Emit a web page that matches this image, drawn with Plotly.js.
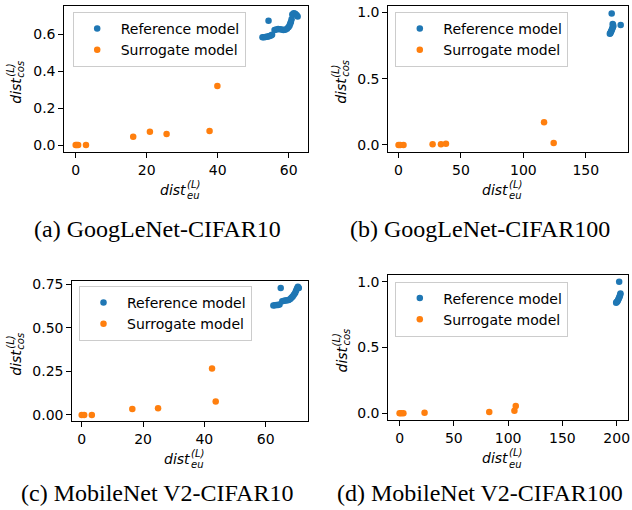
<!DOCTYPE html>
<html>
<head>
<meta charset="utf-8">
<script src="https://cdn.plot.ly/plotly-3.0.1.min.js"></script>
<style>html,body{margin:0;padding:0;background:#fff;}#chart{width:632px;height:510px;}</style>
</head>
<body>
<div id="chart"></div>
<script>
// ---------- DATA ----------
const seriesNames = ["Reference model", "Surrogate model"];
const captions = ["(a) GoogLeNet-CIFAR10", "(b) GoogLeNet-CIFAR100", "(c) MobileNet V2-CIFAR10", "(d) MobileNet V2-CIFAR100"];

// (a) GoogLeNet-CIFAR10
const refA_x = [52.6, 53.0, 53.4, 53.8, 54.2, 54.6, 55.0, 55.3, 54.3, 56.0, 56.5, 57.0, 57.5, 58.0, 58.5, 59.0, 59.5, 59.9, 60.2, 60.4, 60.6, 60.8, 61.0, 61.4, 61.8, 62.2, 62.5];
const refA_y = [0.582, 0.583, 0.584, 0.585, 0.587, 0.589, 0.592, 0.596, 0.672, 0.622, 0.625, 0.627, 0.626, 0.624, 0.622, 0.623, 0.628, 0.636, 0.645, 0.655, 0.665, 0.68, 0.705, 0.712, 0.71, 0.703, 0.695];
const surA_x = [0.0, 0.3, 0.7, 2.9, 16.2, 20.9, 25.6, 37.7, 39.9];
const surA_y = [0.0, 0.0, 0.0, 0.0, 0.045, 0.072, 0.059, 0.076, 0.319];

// (b) GoogLeNet-CIFAR100
const refB_x = [170.8, 171.6, 171.9, 172.0, 171.7, 171.3, 170.9, 170.5, 170.1, 169.7, 169.3, 178.0];
const refB_y = [0.992, 0.912, 0.905, 0.896, 0.887, 0.878, 0.869, 0.860, 0.851, 0.843, 0.838, 0.904];
const surB_x = [0.0, 1.3, 4.0, 27.3, 34.0, 38.0, 116.6, 124.3];
const surB_y = [0.0, 0.0, 0.0, 0.005, 0.005, 0.01, 0.171, 0.015];

// (c) MobileNet V2-CIFAR10
const refC_x = [62.5, 63.0, 63.5, 64.0, 64.5, 64.9, 65.4, 66.0, 66.5, 67.0, 67.5, 68.0, 68.4, 68.8, 69.2, 69.6, 69.9, 70.2, 70.5, 70.8];
const refC_y = [0.628, 0.629, 0.630, 0.631, 0.633, 0.728, 0.652, 0.655, 0.656, 0.658, 0.660, 0.665, 0.672, 0.680, 0.690, 0.700, 0.712, 0.725, 0.735, 0.728];
const surC_x = [0.0, 0.8, 3.3, 16.5, 24.9, 42.5, 43.7];
const surC_y = [0.0, 0.0, 0.0, 0.034, 0.038, 0.266, 0.077];

// (d) MobileNet V2-CIFAR100
const refD_x = [202.3, 203.5, 203.2, 202.8, 202.3, 201.8, 201.2, 200.6, 200.0, 199.5];
const refD_y = [1.0, 0.91, 0.90, 0.89, 0.88, 0.87, 0.86, 0.85, 0.845, 0.84];
const surD_x = [0.0, 1.5, 3.5, 23.0, 82.6, 105.8, 107.0];
const surD_y = [0.0, 0.0, 0.0, 0.005, 0.01, 0.02, 0.055];

// tick labels
const ticksA_x = [0, 20, 40, 60];        const ticksA_y = [0.0, 0.2, 0.4, 0.6];
const labelsA_y = ["0.0", "0.2", "0.4", "0.6"];
const ticksB_x = [0, 50, 100, 150];      const ticksB_y = [0.0, 0.5, 1.0];
const labelsB_y = ["0.0", "0.5", "1.0"];
const ticksC_x = [0, 20, 40, 60];        const ticksC_y = [0.0, 0.25, 0.5, 0.75];
const labelsC_y = ["0.00", "0.25", "0.50", "0.75"];
const ticksD_x = [0, 50, 100, 150, 200]; const ticksD_y = [0.0, 0.5, 1.0];
const labelsD_y = ["0.0", "0.5", "1.0"];

// ---------- LAYOUT ----------
const W = 632, H = 510;
const px = v => v / W;
const py = v => 1 - v / H;
const BLUE = "#1f77b4", ORANGE = "#ff7f0e";
const tickFont = {family: "DejaVu Sans", size: 14, color: "#000"};

// plot boxes in pixels
const boxes = [
  {l: 64.3, r: 308.3, t: 5.7, b: 151.7, xr: [-3.2, 65.5], yr: [-0.036, 0.753], tx: ticksA_x, ty: ticksA_y, tyl: labelsA_y, leg: [72.7, 12], ytx: 16},
  {l: 388.3, r: 628.3, t: 5.7, b: 152.0, xr: [-8.2, 184.1], yr: [-0.053, 1.05], tx: ticksB_x, ty: ticksB_y, tyl: labelsB_y, leg: [395.3, 12], ytx: 341},
  {l: 72.3, r: 307.7, t: 280.7, b: 420.7, xr: [-3.07, 73.7], yr: [-0.033, 0.770], tx: ticksC_x, ty: ticksC_y, tyl: labelsC_y, leg: [79.0, 286], ytx: 16},
  {l: 388.3, r: 628.3, t: 275.0, b: 420.0, xr: [-10.4, 210.7], yr: [-0.051, 1.051], tx: ticksD_x, ty: ticksD_y, tyl: labelsD_y, leg: [395.3, 281.5], ytx: 341}
];
const capPos = [[157, 229], [480, 229], [157, 493], [480, 493]];

const dataSets = [
  [refA_x, refA_y, surA_x, surA_y],
  [refB_x, refB_y, surB_x, surB_y],
  [refC_x, refC_y, surC_x, surC_y],
  [refD_x, refD_y, surD_x, surD_y]
];

const traces = [];
const layout = {
  width: W, height: H,
  margin: {l: 0, r: 0, t: 0, b: 0},
  paper_bgcolor: "#fff", plot_bgcolor: "#fff",
  font: {family: "DejaVu Sans", size: 14, color: "#000"},
  showlegend: true,
  annotations: []
};

boxes.forEach((b, i) => {
  const n = i === 0 ? "" : String(i + 1);
  const xa = "x" + n, ya = "y" + n;
  const legName = "legend" + n;
  const d = dataSets[i];
  traces.push({
    type: "scatter", mode: "markers", x: d[0], y: d[1], xaxis: xa, yaxis: ya,
    name: seriesNames[0], legend: legName,
    marker: {color: BLUE, size: 6.5}
  });
  traces.push({
    type: "scatter", mode: "markers", x: d[2], y: d[3], xaxis: xa, yaxis: ya,
    name: seriesNames[1], legend: legName,
    marker: {color: ORANGE, size: 6.5}
  });
  const axCommon = {
    showline: true, mirror: true, linecolor: "#000", linewidth: 1,
    ticks: "outside", ticklen: 5, tickwidth: 1, tickcolor: "#000",
    showgrid: false, zeroline: false, tickfont: tickFont, fixedrange: true
  };
  layout["xaxis" + n] = Object.assign({}, axCommon, {
    domain: [px(b.l), px(b.r)], range: b.xr, anchor: ya,
    tickmode: "array", tickvals: b.tx, ticktext: b.tx.map(String)
  });
  layout["yaxis" + n] = Object.assign({}, axCommon, {
    domain: [py(b.b), py(b.t)], range: b.yr, anchor: xa,
    tickmode: "array", tickvals: b.ty, ticktext: b.tyl
  });
  layout[legName] = {
    x: px(b.leg[0]), y: py(b.leg[1]), xanchor: "left", yanchor: "top",
    xref: "paper", yref: "paper", itemwidth: 37,
    bgcolor: "rgba(255,255,255,0.8)", bordercolor: "#cccccc", borderwidth: 1,
    font: {family: "DejaVu Sans", size: 14, color: "#000"},
    itemclick: false, itemdoubleclick: false
  };

  // x-axis title: dist with stacked (L) / eu
  const jx = (b.l + b.r) / 2 + 2;
  const ty = b.b + 38;
  layout.annotations.push(
    {xref: "paper", yref: "paper", x: px(jx), y: py(ty), xanchor: "right", yanchor: "middle",
     text: "<i>dist</i>", showarrow: false, font: {family: "DejaVu Sans", size: 14, color: "#000"}},
    {xref: "paper", yref: "paper", x: px(jx - 3.5), y: py(ty - 5.5), xanchor: "left", yanchor: "middle",
     text: "<i>(L)</i>", showarrow: false, font: {family: "DejaVu Sans", size: 10, color: "#000"}},
    {xref: "paper", yref: "paper", x: px(jx - 3.5), y: py(ty + 6), xanchor: "left", yanchor: "middle",
     text: "<i>eu</i>", showarrow: false, font: {family: "DejaVu Sans", size: 10, color: "#000"}}
  );
  // y-axis title rotated: dist with stacked (L) / cos
  const jy = (b.t + b.b) / 2 - 3;
  layout.annotations.push(
    {xref: "paper", yref: "paper", x: px(b.ytx), y: py(jy), xanchor: "center", yanchor: "top",
     textangle: -90, text: "<i>dist</i>", showarrow: false, font: {family: "DejaVu Sans", size: 14, color: "#000"}},
    {xref: "paper", yref: "paper", x: px(b.ytx - 5), y: py(jy + 3.5), xanchor: "center", yanchor: "bottom",
     textangle: -90, text: "<i>(L)</i>", showarrow: false, font: {family: "DejaVu Sans", size: 10, color: "#000"}},
    {xref: "paper", yref: "paper", x: px(b.ytx + 5), y: py(jy + 3.5), xanchor: "center", yanchor: "bottom",
     textangle: -90, text: "<i>cos</i>", showarrow: false, font: {family: "DejaVu Sans", size: 10, color: "#000"}}
  );
  // caption
  layout.annotations.push({
    xref: "paper", yref: "paper", x: px(capPos[i][0]), y: py(capPos[i][1]),
    xanchor: "center", yanchor: "middle", text: captions[i], showarrow: false,
    font: {family: "Liberation Serif", size: 24, color: "#000"}
  });
});

Plotly.newPlot("chart", traces, layout, {displayModeBar: false, staticPlot: true});
</script>
</body>
</html>
